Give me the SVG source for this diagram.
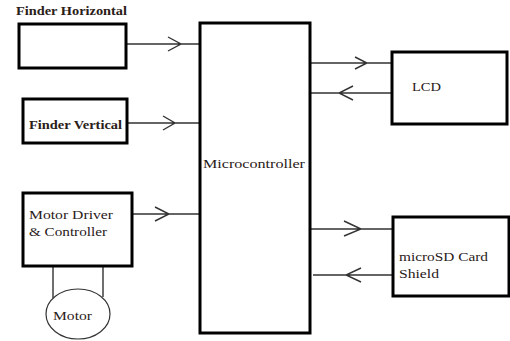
<svg xmlns="http://www.w3.org/2000/svg" width="510" height="341" viewBox="0 0 510 341">
<style>
.box{fill:#fff;stroke:#000;stroke-width:3}
.ln{fill:none;stroke:#333;stroke-width:1.4}
text{font-family:'Liberation Serif','Times New Roman','DejaVu Serif',serif;font-size:13.5px;fill:#2a2018}
.b{font-weight:bold}
</style>
<rect width="510" height="341" fill="#fff"/>
<g id="connectors">
<path class="ln" d="M126,44H200M168,37L181,44L168,51"/>
<path class="ln" d="M127,123H200M163,116L175,123L163,130"/>
<path class="ln" d="M132,214H200M155,207L169,214L155,221"/>
<path class="ln" d="M310,63H392M355,57L367,63L355,69"/>
<path class="ln" d="M310,93H396M353,86L339,93L353,100"/>
<path class="ln" d="M310,229H397M344,221L361,229L344,236"/>
<path class="ln" d="M313,275H398M361,268L346,275L361,282"/>
<path class="ln" d="M53,266V298M103,266V297"/>
</g>
<g id="finder-horizontal">
<text class="b" x="16" y="15" textLength="111" lengthAdjust="spacingAndGlyphs">Finder Horizontal</text>
<rect class="box" x="19" y="24" width="107" height="44"/>
</g>
<g id="finder-vertical">
<rect class="box" x="23" y="99" width="104" height="44"/>
<text class="b" x="29" y="129" textLength="93" lengthAdjust="spacingAndGlyphs">Finder Vertical</text>
</g>
<g id="motor-driver">
<rect class="box" x="23" y="193" width="109" height="73"/>
<text x="29" y="219" textLength="84" lengthAdjust="spacingAndGlyphs">Motor Driver</text>
<text x="29" y="236" textLength="78" lengthAdjust="spacingAndGlyphs">&amp; Controller</text>
</g>
<g id="motor">
<ellipse cx="78" cy="314" rx="32" ry="25" fill="#fff" stroke="#333" stroke-width="1.2"/>
<text x="53" y="320" textLength="39" lengthAdjust="spacingAndGlyphs">Motor</text>
</g>
<g id="microcontroller">
<rect class="box" x="200" y="23" width="110" height="310"/>
<text x="203" y="168" textLength="102" lengthAdjust="spacingAndGlyphs">Microcontroller</text>
</g>
<g id="lcd">
<rect class="box" x="392" y="52" width="115" height="72"/>
<text x="412" y="91" textLength="29" lengthAdjust="spacingAndGlyphs">LCD</text>
</g>
<g id="microsd">
<rect class="box" x="393" y="217" width="116" height="79"/>
<text x="399" y="261" textLength="89" lengthAdjust="spacingAndGlyphs">microSD Card</text>
<text x="399" y="278" textLength="40" lengthAdjust="spacingAndGlyphs">Shield</text>
</g>
</svg>
